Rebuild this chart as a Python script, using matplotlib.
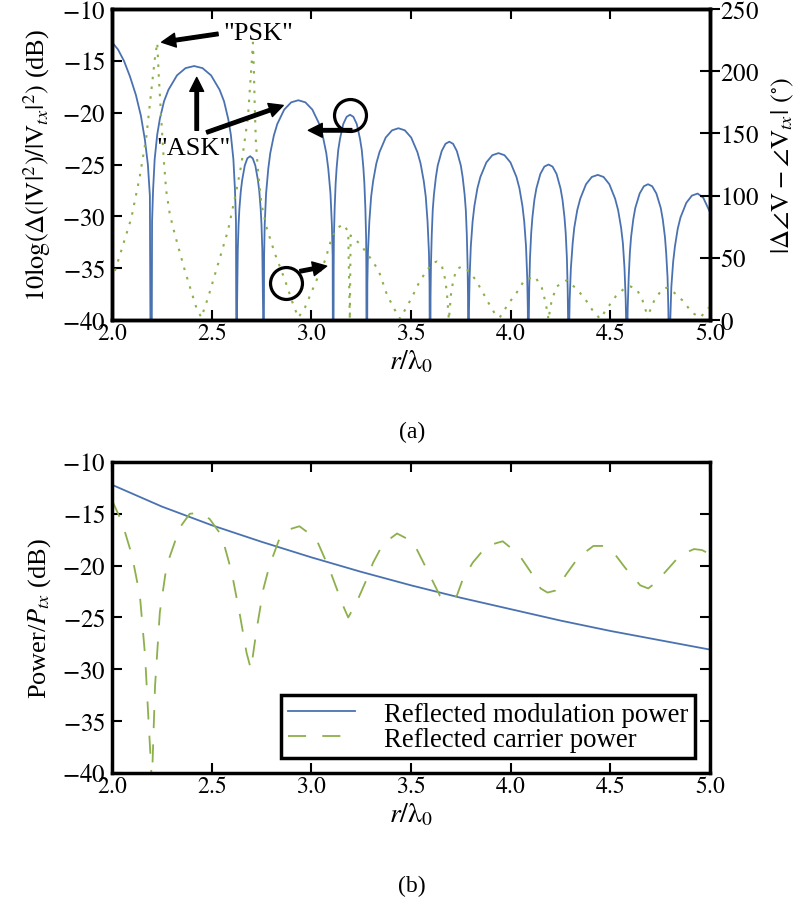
import matplotlib
matplotlib.use("Agg")
import matplotlib.pyplot as plt
from matplotlib.ticker import FuncFormatter

plt.rcParams["font.family"] = "serif"
plt.rcParams["font.serif"] = ["Liberation Serif", "DejaVu Serif"]
plt.rcParams["mathtext.fontset"] = "stix"
plt.rcParams["axes.linewidth"] = 2.5
plt.rcParams["xtick.direction"] = "in"
plt.rcParams["ytick.direction"] = "in"
plt.rcParams["xtick.major.size"] = 7
plt.rcParams["ytick.major.size"] = 7
plt.rcParams["xtick.major.width"] = 1.5
plt.rcParams["ytick.major.width"] = 1.5
plt.rcParams["xtick.labelsize"] = 17
plt.rcParams["ytick.labelsize"] = 18

BLUE = "#4a72b0"
GREEN = "#8cb04b"

# (a) amplitude difference, dB, lobe by lobe (nulls drop below the -40 floor)
r_amp = [2.000, 2.030, 2.060, 2.090, 2.120, 2.145, 2.165, 2.180, 2.190,
         2.197, 2.201, 2.206, 2.214, 2.227, 2.240, 2.261, 2.283, 2.326, 2.369, 2.412,
         2.454, 2.497, 2.540, 2.562, 2.583, 2.596, 2.609, 2.617, 2.622,
         2.626, 2.627, 2.629, 2.631, 2.635, 2.639, 2.646, 2.653, 2.666, 2.679, 2.693,
         2.706, 2.719, 2.732, 2.739, 2.746, 2.750, 2.754, 2.756, 2.758,
         2.759, 2.763, 2.766, 2.773, 2.784, 2.794, 2.812, 2.829, 2.864, 2.899, 2.935,
         2.970, 3.005, 3.040, 3.057, 3.075, 3.085, 3.096, 3.103, 3.107,
         3.110, 3.112, 3.113, 3.117, 3.122, 3.127, 3.135, 3.144, 3.160, 3.177, 3.194,
         3.211, 3.228, 3.244, 3.253, 3.261, 3.266, 3.271, 3.275, 3.276,
         3.278, 3.281, 3.284, 3.291, 3.300, 3.310, 3.326, 3.342, 3.373, 3.405, 3.437,
         3.469, 3.501, 3.532, 3.548, 3.564, 3.574, 3.583, 3.590, 3.593,
         3.596, 3.598, 3.600, 3.604, 3.609, 3.615, 3.625, 3.634, 3.654, 3.673, 3.692,
         3.711, 3.730, 3.750, 3.759, 3.769, 3.775, 3.780, 3.784, 3.786,
         3.788, 3.791, 3.794, 3.800, 3.809, 3.818, 3.833, 3.848, 3.878, 3.908, 3.939,
         3.969, 3.999, 4.029, 4.044, 4.059, 4.068, 4.077, 4.083, 4.086,
         4.089, 4.091, 4.093, 4.097, 4.103, 4.109, 4.119, 4.129, 4.149, 4.169, 4.190,
         4.210, 4.230, 4.250, 4.260, 4.270, 4.276, 4.282, 4.286, 4.288,
         4.290, 4.293, 4.296, 4.302, 4.311, 4.319, 4.334, 4.349, 4.378, 4.407, 4.437,
         4.466, 4.495, 4.524, 4.539, 4.554, 4.563, 4.571, 4.577, 4.580,
         4.583, 4.585, 4.587, 4.592, 4.598, 4.604, 4.615, 4.625, 4.647, 4.668, 4.689,
         4.710, 4.731, 4.753, 4.763, 4.774, 4.780, 4.787, 4.791, 4.793,
         4.795, 4.798, 4.801, 4.806, 4.815, 4.824, 4.838, 4.852, 4.881, 4.909, 4.938,
         4.966, 5.000]
db_amp = [-13.2, -13.9, -15.0, -16.5, -18.3, -20.3, -22.6, -25.0, -28.0,
          -60.0, -30.5, -27.5, -24.5, -22.1, -20.6, -18.9, -17.8, -16.4, -15.7, -15.5,
          -15.7, -16.4, -17.8, -18.9, -20.6, -22.1, -24.5, -27.5, -30.5,
          -60.0, -39.2, -36.2, -33.2, -30.8, -29.3, -27.6, -26.5, -25.1, -24.4, -24.2,
          -24.4, -25.1, -26.5, -27.6, -29.3, -30.8, -33.2, -36.2, -39.2,
          -60.0, -33.8, -30.8, -27.8, -25.4, -23.9, -22.2, -21.1, -19.7, -19.0, -18.8,
          -19.0, -19.7, -21.1, -22.2, -23.9, -25.4, -27.8, -30.8, -33.8,
          -60.0, -35.2, -32.2, -29.2, -26.8, -25.3, -23.6, -22.5, -21.1, -20.4, -20.2,
          -20.4, -21.1, -22.5, -23.6, -25.3, -26.8, -29.2, -32.2, -35.2,
          -60.0, -36.5, -33.5, -30.5, -28.1, -26.6, -24.9, -23.8, -22.4, -21.7, -21.5,
          -21.7, -22.4, -23.8, -24.9, -26.6, -28.1, -30.5, -33.5, -36.5,
          -60.0, -37.8, -34.8, -31.8, -29.4, -27.9, -26.2, -25.1, -23.7, -23.0, -22.8,
          -23.0, -23.7, -25.1, -26.2, -27.9, -29.4, -31.8, -34.8, -37.8,
          -60.0, -38.9, -35.9, -32.9, -30.5, -29.0, -27.3, -26.2, -24.8, -24.1, -23.9,
          -24.1, -24.8, -26.2, -27.3, -29.0, -30.5, -32.9, -35.9, -38.9,
          -60.0, -40.0, -37.0, -34.0, -31.6, -30.1, -28.4, -27.3, -25.9, -25.2, -25.0,
          -25.2, -25.9, -27.3, -28.4, -30.1, -31.6, -34.0, -37.0, -40.0,
          -60.0, -41.0, -38.0, -35.0, -32.6, -31.1, -29.4, -28.3, -26.9, -26.2, -26.0,
          -26.2, -26.9, -28.3, -29.4, -31.1, -32.6, -35.0, -38.0, -41.0,
          -60.0, -41.9, -38.9, -35.9, -33.5, -32.0, -30.3, -29.2, -27.8, -27.1, -26.9,
          -27.1, -27.8, -29.2, -30.3, -32.0, -33.5, -35.9, -38.9, -41.9,
          -60.0, -42.8, -39.8, -36.8, -34.4, -32.9, -31.2, -30.1, -28.7, -28.0, -27.8,
          -28.2, -29.6]

# (a) phase difference, degrees
r_ph = [2.000, 2.047, 2.097, 2.139, 2.172, 2.197, 2.215, 2.227, 2.235, 2.247,
        2.260, 2.272, 2.290, 2.315, 2.365, 2.423, 2.448, 2.482, 2.532, 2.582,
        2.624, 2.649, 2.682, 2.700, 2.707, 2.712, 2.716, 2.722, 2.734, 2.750,
        2.776, 2.818, 2.868, 2.910, 2.935, 2.968, 3.018, 3.069, 3.102, 3.130,
        3.161, 3.185, 3.193, 3.197, 3.245, 3.295, 3.337, 3.378, 3.412, 3.445,
        3.504, 3.537, 3.571, 3.609, 3.630, 3.654, 3.671, 3.680, 3.690, 3.700,
        3.712, 3.729, 3.755, 3.779, 3.821, 3.854, 3.888, 3.921, 3.945, 3.988,
        4.030, 4.069, 4.122, 4.156, 4.172, 4.186, 4.190, 4.195, 4.206, 4.231,
        4.281, 4.331, 4.373, 4.410, 4.448, 4.487, 4.527, 4.574, 4.600, 4.632,
        4.661, 4.683, 4.688, 4.695, 4.721, 4.761, 4.785, 4.820, 4.867, 4.909,
        4.951, 5.000]
deg_ph = [32, 56, 82, 115, 147, 184, 210, 223, 195, 162,
          128, 104, 85, 69, 40, 10, 2, 18, 45, 72,
          104, 125, 163, 205, 223, 200, 172, 142, 117, 93,
          74, 53, 32, 12, 2, 10, 29, 48, 66, 74,
          77, 71, 0, 68, 61, 50, 40, 21, 10, 1,
          18, 29, 38, 46, 47, 44, 33, 22, 0, 20,
          32, 41, 43, 41, 33, 24, 14, 5, 2, 13,
          22, 32, 35, 26, 16, 5, 0, 6, 16, 27,
          32, 25, 17, 8, 1, 10, 19, 26, 27, 25,
          16, 5, 0, 6, 16, 25, 26, 22, 15, 6,
          2, 11]

# (b) reflected powers, dB
r_mod = [2.00, 2.25, 2.50, 2.75, 3.00, 3.25, 3.50, 3.75, 4.00, 4.25, 4.50, 4.75, 5.00]
p_mod = [-12.2, -14.3, -16.1, -17.7, -19.2, -20.6, -21.9, -23.1, -24.2, -25.3, -26.3, -27.2, -28.1]

r_car = [2.000, 2.050, 2.100, 2.140, 2.166, 2.182, 2.195, 2.200, 2.216, 2.240,
         2.274, 2.341, 2.390, 2.440, 2.490, 2.550, 2.600, 2.642, 2.675, 2.697,
         2.726, 2.760, 2.790, 2.840, 2.890, 2.940, 3.024, 3.090, 3.160, 3.185,
         3.228, 3.278, 3.310, 3.360, 3.430, 3.510, 3.570, 3.645, 3.680, 3.730,
         3.760, 3.810, 3.880, 3.960, 4.040, 4.100, 4.150, 4.185, 4.225, 4.280,
         4.340, 4.415, 4.460, 4.515, 4.574, 4.650, 4.690, 4.730, 4.790, 4.850,
         4.920, 4.960, 5.000]
p_car = [-13.7, -15.8, -19.0, -22.9, -28.7, -34.5, -39.0, -41.0, -31.6, -24.5,
         -20.0, -16.3, -15.0, -14.9, -15.5, -17.1, -20.6, -24.8, -28.4, -30.0,
         -26.1, -22.2, -20.0, -17.4, -16.5, -16.2, -17.4, -20.3, -23.9, -25.0,
         -23.5, -21.3, -19.7, -17.9, -16.9, -17.7, -20.0, -22.9, -23.3, -22.9,
         -21.3, -19.7, -18.1, -17.65, -18.9, -20.6, -22.2, -22.6, -22.4, -20.8,
         -19.2, -18.1, -18.1, -18.7, -20.2, -21.9, -22.2, -21.6, -20.3, -19.0,
         -18.4, -18.5, -18.9]

x_ticks = [2.0, 2.5, 3.0, 3.5, 4.0, 4.5, 5.0]
db_ticks = [-40, -35, -30, -25, -20, -15, -10]
deg_ticks = [0, 50, 100, 150, 200, 250]

fmt1 = FuncFormatter(lambda v, p: "$%.1f$" % v)
fmt0 = FuncFormatter(lambda v, p: "$%d$" % v)

fig = plt.figure(figsize=(8.04, 9.03), dpi=100)
ax1 = fig.add_axes([0.1393, 0.6445, 0.7438, 0.3444])
ax3 = fig.add_axes([0.1393, 0.1429, 0.7438, 0.3444])

# ---- (a)
ax1.plot(r_amp, db_amp, color=BLUE, lw=1.3)
ax1.set_xlim(2.0, 5.0)
ax1.set_ylim(-40, -10)
ax1.set_xticks(x_ticks)
ax1.set_yticks(db_ticks)
ax1.xaxis.set_major_formatter(fmt1)
ax1.yaxis.set_major_formatter(fmt0)
ax1.tick_params(top=True, right=False, pad=5)
ax1.tick_params(axis="x", pad=2)
ax1.set_xlabel(r"$r/\mathrm{\lambda}_0$", fontsize=20, labelpad=3)
ax1.set_ylabel(r"$10\mathrm{log}(\Delta(|\mathrm{V}|^2)/|\mathrm{V}_{tx}|^2)$ (dB)",
               fontsize=19, labelpad=6)

ax2 = ax1.twinx()
ax2.plot(r_ph, deg_ph, color=GREEN, lw=1.5, dashes=(1.2, 3.5))
ax2.set_ylim(0, 250)
ax2.set_yticks(deg_ticks)
ax2.yaxis.set_major_formatter(fmt0)
ax2.tick_params(axis="y", direction="inout", length=14, pad=0)
ax2.set_ylabel(r"$|\Delta\angle\mathrm{V}-\angle\mathrm{V}_{tx}|$ $(^{\circ})$",
               fontsize=19, labelpad=8)

arrow = dict(facecolor="black", edgecolor="black", width=2.5, headwidth=10,
             headlength=10, shrink=0.0)
t1 = ax1.transData
ax2.text(2.56, -12.35, '"PSK"', transform=t1, fontsize=19, ha="left", va="center")
ax2.annotate("", xy=(2.249, -13.2), xytext=(2.532, -12.4),
             xycoords=t1, textcoords=t1, arrowprops=arrow)
ax2.text(2.411, -23.4, '"ASK"', transform=t1, fontsize=19, ha="center", va="center")
ax2.annotate("", xy=(2.425, -16.6), xytext=(2.425, -21.7),
             xycoords=t1, textcoords=t1, arrowprops=arrow)
ax2.annotate("", xy=(2.859, -19.3), xytext=(2.475, -21.9),
             xycoords=t1, textcoords=t1, arrowprops=arrow)
ax2.plot([3.194], [-20.2], transform=t1, marker="o", ms=23, mfc="none",
         mec="black", mew=2.3, clip_on=False)
ax2.annotate("", xy=(2.985, -21.7), xytext=(3.203, -21.7),
             xycoords=t1, textcoords=t1, arrowprops=arrow)
ax2.plot([2.873], [-36.4], transform=t1, marker="o", ms=23, mfc="none",
         mec="black", mew=2.3, clip_on=False)
ax2.annotate("", xy=(3.077, -34.8), xytext=(2.943, -35.3),
             xycoords=t1, textcoords=t1, arrowprops=arrow)

# ---- (b)
ax3.plot(r_mod, p_mod, color=BLUE, lw=1.3, label="Reflected modulation power")
ax3.plot(r_car, p_car, color=GREEN, lw=1.3, dashes=(10, 9),
         label="Reflected carrier power")
ax3.set_xlim(2.0, 5.0)
ax3.set_ylim(-40, -10)
ax3.set_xticks(x_ticks)
ax3.set_yticks(db_ticks)
ax3.xaxis.set_major_formatter(fmt1)
ax3.yaxis.set_major_formatter(fmt0)
ax3.tick_params(top=True, right=True, pad=5)
ax3.tick_params(axis="x", pad=2)
ax3.set_xlabel(r"$r/\mathrm{\lambda}_0$", fontsize=20, labelpad=3)
ax3.set_ylabel(r"Power/$P_{tx}$ (dB)", fontsize=19, labelpad=6)
leg = ax3.legend(loc="lower right", fontsize=19.3, fancybox=False, framealpha=1,
                 edgecolor="black", handlelength=2.5, labelspacing=0.0,
                 borderpad=0.25, handletextpad=1.1, borderaxespad=0.55)
leg.get_frame().set_linewidth(2.5)

fig.text(0.5124, 1 - 432 / 903, "(a)", fontsize=17, ha="center", va="center")
fig.text(0.5124, 1 - 886 / 903, "(b)", fontsize=17, ha="center", va="center")

fig.savefig("out.png", dpi=100)
